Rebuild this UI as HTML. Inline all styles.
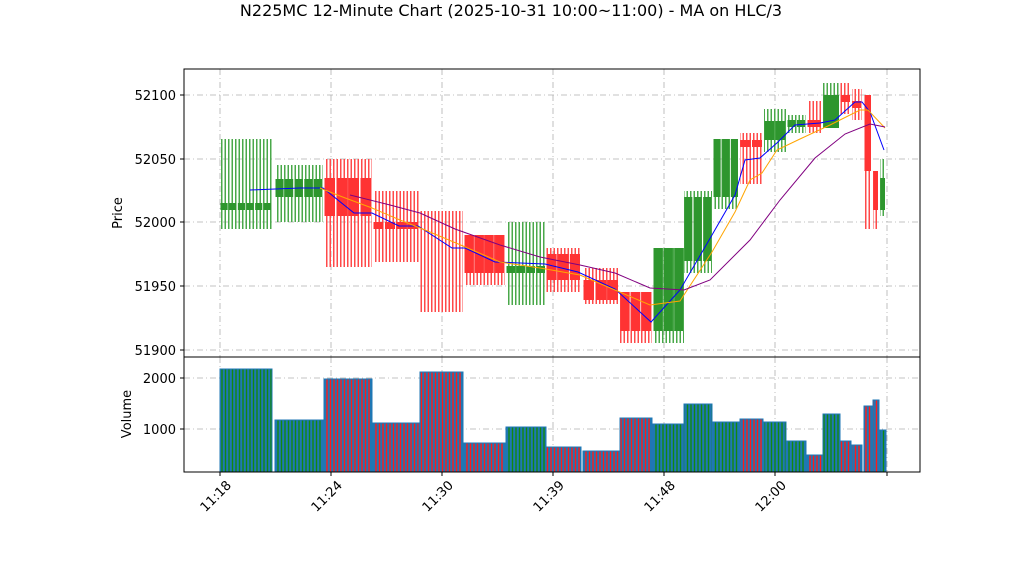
<!DOCTYPE html>
<html><head><meta charset="utf-8"><style>
body{margin:0;background:#fff;font-family:"Liberation Sans","DejaVu Sans",sans-serif}
</style></head><body>
<svg id="s" width="1022" height="575" xmlns="http://www.w3.org/2000/svg" font-family="DejaVu Sans, Liberation Sans, sans-serif">
<defs>
<pattern id="wg" width="3.5" height="10" patternUnits="userSpaceOnUse"><rect x="0.5" width="1.5" height="10" fill="#4aa84a"/></pattern>
<pattern id="wr" width="3.5" height="10" patternUnits="userSpaceOnUse"><rect x="0.5" width="1.5" height="10" fill="#ff4a4a"/></pattern>
<pattern id="vg" width="3.5" height="10" patternUnits="userSpaceOnUse"><rect width="3.5" height="10" fill="#1f77b4"/><rect x="0.8" width="1.4" height="10" fill="#118811"/></pattern>
<pattern id="vr" width="3.5" height="10" patternUnits="userSpaceOnUse"><rect width="3.5" height="10" fill="#1f77b4"/><rect x="0.8" width="1.4" height="10" fill="#ff1a1a"/></pattern>
</defs>
<text x="511" y="16" text-anchor="middle" font-size="16">N225MC 12-Minute Chart (2025-10-31 10:00~11:00) - MA on HLC/3</text>
<g id="g"></g>
</svg>
<script>
const g=document.getElementById('g');let h='';
const ns=(t,a,c)=>{h+=`<${t} ${a}>${c||''}</${t}>`;};
const grid='stroke="#b0b0b0" stroke-width="0.8" stroke-dasharray="6,3,1,3"';
[220,331,442,553,664,775,887].forEach(x=>{ns('line',`x1="${x}" y1="69" x2="${x}" y2="357" ${grid}`);ns('line',`x1="${x}" y1="357" x2="${x}" y2="472" ${grid}`);});
[95,159,222,286,350].forEach(y=>ns('line',`x1="184" y1="${y}" x2="920" y2="${y}" ${grid}`));
[378,429].forEach(y=>ns('line',`x1="184" y1="${y}" x2="920" y2="${y}" ${grid}`));
const S=[[220,272,'g',139,229,203,210,369,6],[275,323,'g',165,222,179,197,420,5],[324,372,'r',159,267,178,216,379,4],[373,419,'r',191,262,222,229,423,4],[420,463,'r',211,312,0,0,372,4],[464,505,'r',235,285,235,273,443,4],[506,546,'g',222,305,266,273,427,4],[546,581,'r',248,292,254,280,447,3],[583,619,'r',268,304,280,300,451,3],[620,652,'r',292,343,292,331,418,3],[653,684,'g',248,343,248,331,424,3],[684,712,'g',191,273,197,261,404,3],[713,739,'g',139,209,139,197,422,3],[740,763,'r',133,184,140,147,419,2],[764,786,'g',109,152,121,140,422,2],[787,806,'g',115,133,120,127,441,2],[807,822,'r',101,133,120,127,455,1],[823,840,'g',83,128,95,128,414,1],[840,851,'r',83,114,95,102,441,1],[852,862,'r',89,120,101,108,445,1],[864,872,'r',95,229,95,171,406,1],[873,879,'r',171,229,171,210,400,1],[880,886,'g',159,216,178,210,430,1]];
S.forEach(s=>{const[x0,x1,c,wt,wb,bt,bb,vy,n]=s;const w=x1-x0;
ns('rect',`x="${x0}" y="${wt}" width="${w}" height="${wb-wt}" fill="url(#w${c})"`);
if(bb>bt){const bw=w/n;for(let i=0;i<n;i++)ns('rect',`x="${x0+i*bw+0.5}" y="${bt}" width="${bw-1.5}" height="${Math.max(bb-bt,2)}" fill="${c=='g'?'#2e962e':'#ff3333'}"`);}
ns('rect',`x="${x0}" y="${vy}" width="${w}" height="${472-vy}" fill="url(#v${c})" stroke="#1f77b4" stroke-width="1"`);
});
const pl=(p,c)=>ns('polyline',`points="${p}" fill="none" stroke="${c}" stroke-width="1"`);
pl('250,190 300,188 323,188 354,213 372,213 399,226 418,226 452,248 465,248 495,262 545,264 578,272 615,289 651,322 680,290 712,235 735,195 745,160 760,158 778,142 795,125 820,123 835,120 855,102 862,102 870,112 884,150','#0000ff');
pl('320,188 340,196 372,208 400,220 430,232 463,246 500,262 540,268 580,275 615,290 650,305 680,301 712,252 735,212 750,180 762,173 777,150 800,139 830,125 860,110 868,110 885,128','orange');
pl('350,195 390,205 420,213 455,229 500,245 540,257 580,265 615,273 650,288 684,290 710,280 750,240 780,200 815,158 845,134 870,124 885,127','purple');
ns('rect','x="184" y="69" width="736" height="288" fill="none" stroke="#000" stroke-width="1"');
ns('rect','x="184" y="357" width="736" height="115" fill="none" stroke="#000" stroke-width="1"');
[[95,'52100'],[159,'52050'],[222,'52000'],[286,'51950'],[350,'51900']].forEach(([y,t])=>{ns('line',`x1="180" y1="${y}" x2="184" y2="${y}" stroke="#000"`);ns('text',`x="176" y="${y+5}" text-anchor="end" font-size="13"`,t);});
[[378,'2000'],[429,'1000']].forEach(([y,t])=>{ns('line',`x1="180" y1="${y}" x2="184" y2="${y}" stroke="#000"`);ns('text',`x="176" y="${y+5}" text-anchor="end" font-size="13"`,t);});
ns('text','x="122" y="213" text-anchor="middle" font-size="13" transform="rotate(-90 122 213)"','Price');
ns('text','x="131" y="414" text-anchor="middle" font-size="13" transform="rotate(-90 131 414)"','Volume');
[[220,'11:18'],[331,'11:24'],[442,'11:30'],[553,'11:39'],[664,'11:48'],[775,'12:00'],[887,'']].forEach(([x,t])=>{ns('line',`x1="${x}" y1="472" x2="${x}" y2="476" stroke="#000"`);if(t)ns('text',`x="${x+12}" y="486" text-anchor="end" font-size="13" transform="rotate(-45 ${x+12} 486)"`,t);});
g.innerHTML=h;
</script>
</body></html>
